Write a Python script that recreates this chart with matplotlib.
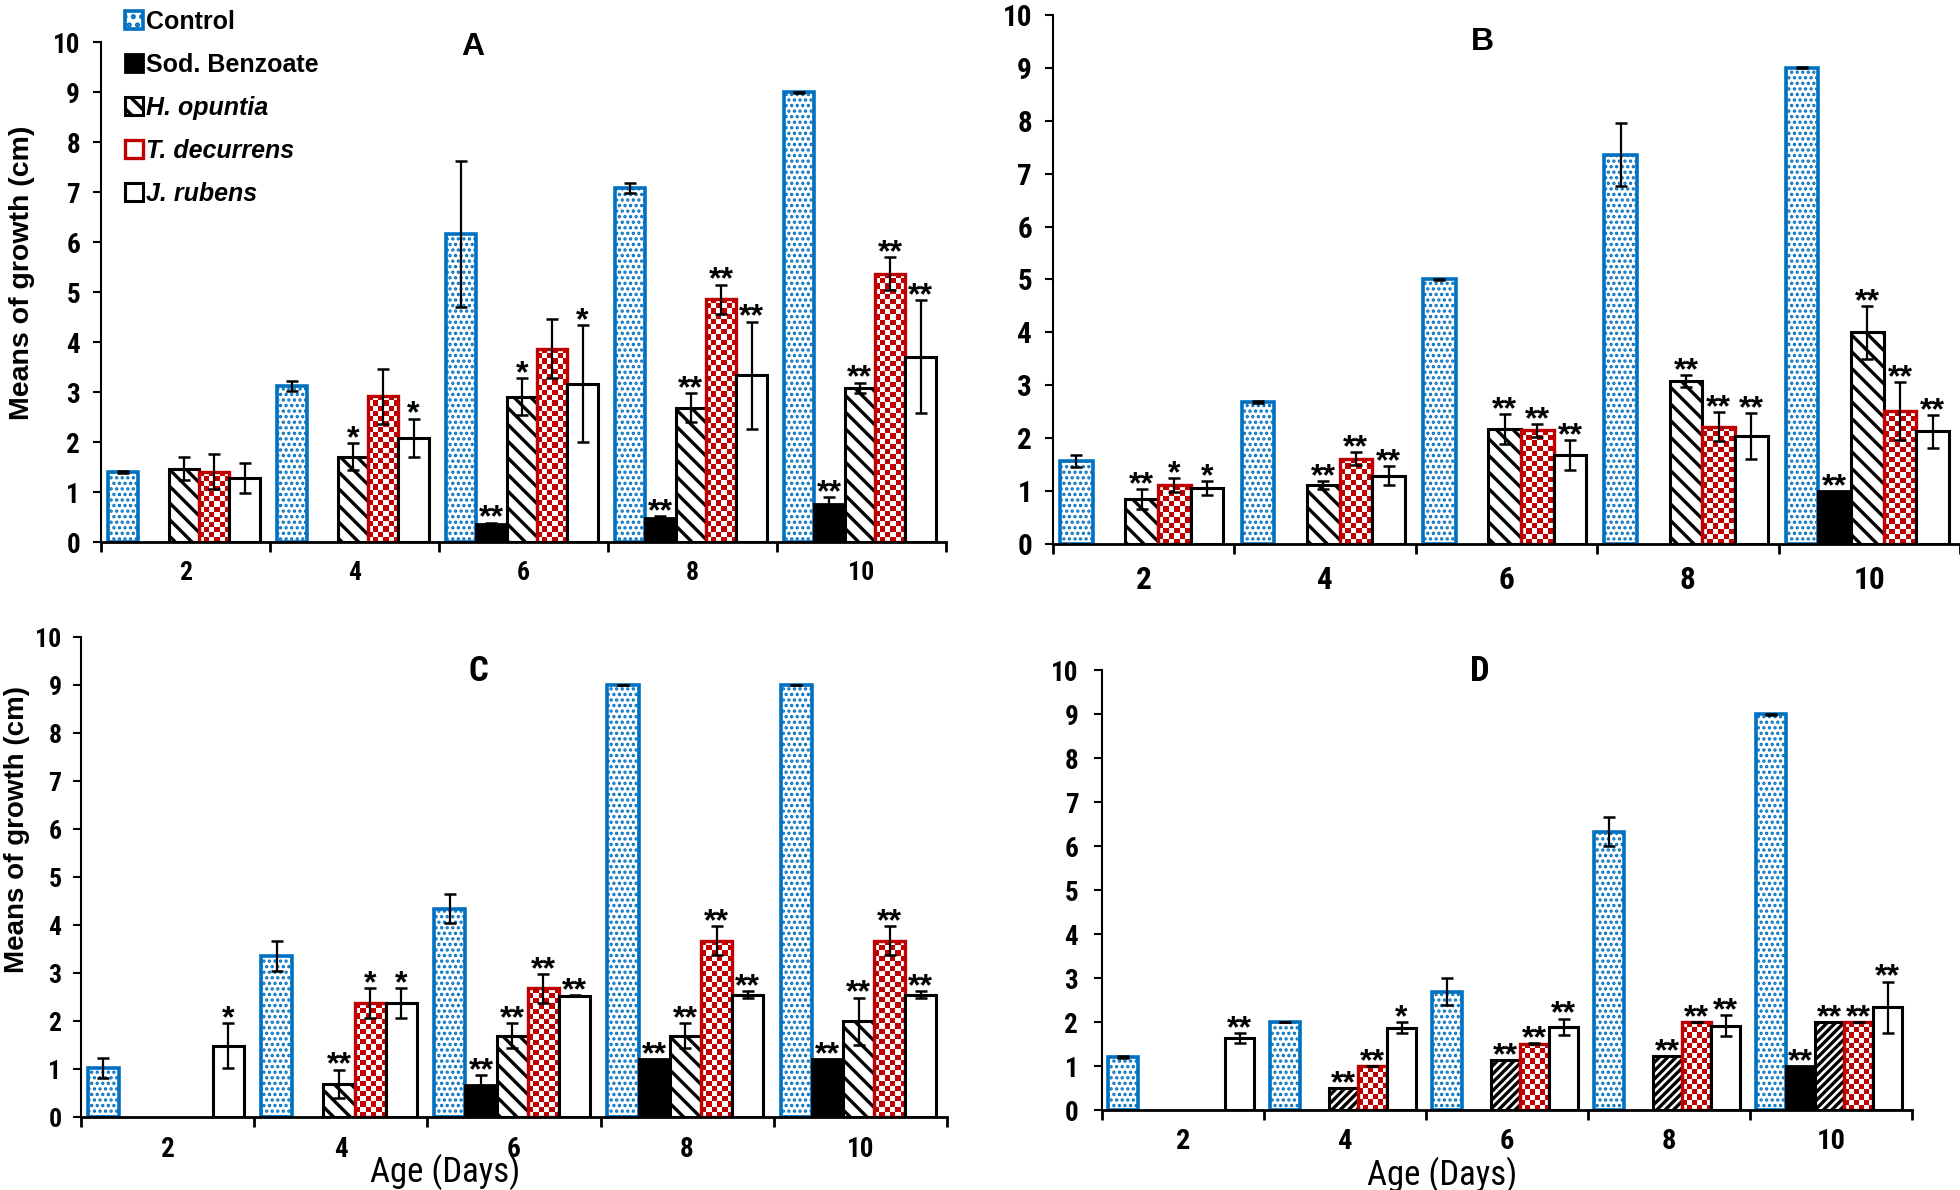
import numpy as np
import matplotlib
matplotlib.use('Agg')
import matplotlib.pyplot as plt
from matplotlib import font_manager
from matplotlib.font_manager import FontProperties
from matplotlib.patches import Patch
from matplotlib.colors import ListedColormap

# ---- data ---------------------------------------------------------------
days = ['2', '4', '6', '8', '10']
series = ['Control', 'Sod. Benzoate', 'H. opuntia', 'T. decurrens', 'J. rubens']

# panel A
a_control = [1.40, 3.12, 6.17, 7.09, 9.00]
a_control_err = [0.02, 0.10, 1.46, 0.10, 0.01]
a_sodben = [0, 0, 0.36, 0.49, 0.77]
a_sodben_err = [0, 0, 0.03, 0.03, 0.13]
a_hop = [1.47, 1.71, 2.91, 2.69, 3.09]
a_hop_err = [0.23, 0.27, 0.37, 0.29, 0.10]
a_tdec = [1.41, 2.92, 3.87, 4.86, 5.37]
a_tdec_err = [0.35, 0.55, 0.59, 0.29, 0.33]
a_jrub = [1.29, 2.09, 3.17, 3.34, 3.71]
a_jrub_err = [0.30, 0.38, 1.17, 1.07, 1.13]
a_stars = [['', '', '', '', ''],
           ['', '', '**', '**', '**'],
           ['', '*', '*', '**', '**'],
           ['', '', '', '**', '**'],
           ['', '*', '*', '**', '**']]

# panel B
b_control = [1.57, 2.68, 5.00, 7.36, 9.00]
b_control_err = [0.12, 0.02, 0.01, 0.59, 0.01]
b_sodben = [0, 0, 0, 0, 1.00]
b_sodben_err = [0, 0, 0, 0, 0]
b_hop = [0.85, 1.11, 2.17, 3.08, 4.00]
b_hop_err = [0.18, 0.08, 0.28, 0.12, 0.50]
b_tdec = [1.11, 1.61, 2.15, 2.22, 2.51]
b_tdec_err = [0.13, 0.12, 0.12, 0.27, 0.55]
b_jrub = [1.06, 1.29, 1.68, 2.04, 2.13]
b_jrub_err = [0.13, 0.18, 0.29, 0.43, 0.31]
b_stars = [['', '', '', '', ''],
           ['', '', '', '', '**'],
           ['**', '**', '**', '**', '**'],
           ['*', '**', '**', '**', '**'],
           ['*', '**', '**', '**', '**']]

# panel C
c_control = [1.02, 3.35, 4.34, 9.00, 9.00]
c_control_err = [0.21, 0.31, 0.30, 0.01, 0.01]
c_sodben = [0, 0, 0.67, 1.20, 1.20]
c_sodben_err = [0, 0, 0.20, 0, 0]
c_hop = [0, 0.69, 1.69, 1.69, 2.00]
c_hop_err = [0, 0.30, 0.26, 0.26, 0.49]
c_tdec = [0, 2.37, 2.68, 3.67, 3.67]
c_tdec_err = [0, 0.31, 0.30, 0.30, 0.30]
c_jrub = [1.49, 2.37, 2.53, 2.55, 2.55]
c_jrub_err = [0.47, 0.31, 0.01, 0.07, 0.07]
c_stars = [['', '', '', '', ''],
           ['', '', '**', '**', '**'],
           ['', '**', '**', '**', '**'],
           ['', '*', '**', '**', '**'],
           ['*', '*', '**', '**', '**']]

# panel D
d_control = [1.21, 2.00, 2.69, 6.33, 9.00]
d_control_err = [0.02, 0.01, 0.30, 0.32, 0.01]
d_sodben = [0, 0, 0, 0, 1.00]
d_sodben_err = [0, 0, 0, 0, 0]
d_hop = [0, 0.50, 1.13, 1.23, 2.00]
d_hop_err = [0, 0, 0, 0, 0]
d_tdec = [0, 1.00, 1.51, 2.00, 2.00]
d_tdec_err = [0, 0.01, 0.01, 0.01, 0.01]
d_jrub = [1.64, 1.87, 1.89, 1.92, 2.34]
d_jrub_err = [0.12, 0.12, 0.19, 0.24, 0.58]
d_stars = [['', '', '', '', ''],
           ['', '', '', '', '**'],
           ['', '**', '**', '**', '**'],
           ['', '**', '**', '**', '**'],
           ['**', '*', '**', '**', '**']]

# ---- style --------------------------------------------------------------
FIG_W, FIG_H = 1960, 1190
BLUE = '#0070C0'
RED = '#C00000'
ARIAL = ['Liberation Sans', 'DejaVu Sans']

plt.rcParams['font.family'] = ARIAL
plt.rcParams['hatch.linewidth'] = 2.4

checker_cmap = ListedColormap(['white', RED])

# look for an Arial-Narrow-like face among what is installed
PREF = ['Liberation Sans', 'Roboto', 'DejaVu Sans', 'Noto Sans', 'Open Sans', 'Lato', 'Inter']


def narrow_font(bold, size):
    cands = []
    for f in font_manager.fontManager.ttflist:
        rank = [i for i, p in enumerate(PREF) if f.name.startswith(p)]
        if not rank or f.style != 'normal' or 'CJK' in f.name:
            continue
        low = f.fname.lower()
        is_narrow = ('narrow' in low or 'condensed' in low or 'Narrow' in f.name
                     or 'Condensed' in f.name or f.stretch == 'condensed')
        if not is_narrow or 'extra' in low or 'ultra' in low:
            continue
        w = f.weight if isinstance(f.weight, (int, float)) else font_manager.weight_dict.get(f.weight, 400)
        cands.append((rank[0], abs(w - (700 if bold else 400)), f.fname))
    if cands:
        cands.sort()
        return FontProperties(fname=cands[0][2], size=size)
    return FontProperties(family='Liberation Sans', weight='bold' if bold else 'normal', size=size)


def bar_style(k, hop_hatch):
    if k == 0:
        return dict(facecolor='white', edgecolor=BLUE, hatch='...', linewidth=2.6)
    if k == 1:
        return dict(facecolor='black', edgecolor='black', linewidth=2.0)
    if k == 2:
        return dict(facecolor='white', edgecolor='black', hatch=hop_hatch, linewidth=2.2)
    if k == 3:
        return dict(facecolor='none', edgecolor=RED, linewidth=2.4)
    return dict(facecolor='white', edgecolor='black', linewidth=2.2)


def draw_panel(ax, vals, errs, stars, hop_hatch, ytick_fs, xtick_fs, xpad, ypad):
    x = np.arange(len(days))
    w = 0.18
    box = ax.get_position()
    px_x = box.width * FIG_W / len(days)
    px_y = box.height * FIG_H / 10

    for k in range(5):
        v = np.array(vals[k], float)
        e = np.array(errs[k], float)
        pos = x + (k - 2) * w - 0.01
        m = v > 0
        bars = ax.bar(pos[m], v[m], w, zorder=2, **bar_style(k, hop_hatch))
        if k == 0:
            for p in bars.patches:
                if hasattr(p, 'set_hatch_linewidth'):
                    p.set_hatch_linewidth(1.6)
        if k == 3:
            # red/white checkerboard fill
            for p in bars.patches:
                x0, ww, hh = p.get_x(), p.get_width(), p.get_height()
                nc = max(2, int(round(ww * px_x / 5.2)))
                nr = max(1, int(round(hh * px_y / 5.2)))
                grid = np.add.outer(np.arange(nr), np.arange(nc)) % 2
                ax.imshow(grid, extent=(x0, x0 + ww, 0, hh), origin='lower',
                          cmap=checker_cmap, vmin=0, vmax=1,
                          interpolation='nearest', aspect='auto', zorder=1.5)
        me = m & (e > 0)
        if me.any():
            ax.errorbar(pos[me], v[me], yerr=e[me], fmt='none', ecolor='black',
                        elinewidth=1.6, capsize=4, capthick=1.8, zorder=3)
        for i in range(len(days)):
            if stars[k][i]:
                ax.annotate(stars[k][i], (pos[i], v[i] + e[i]), xytext=(0, -3),
                            textcoords='offset points', ha='center', va='baseline',
                            fontsize=23, fontweight='bold', zorder=4)

    ax.set_xlim(-0.5, len(days) - 0.5)
    ax.set_ylim(0, 10)
    ax.spines['top'].set_visible(False)
    ax.spines['right'].set_visible(False)
    ax.spines['left'].set_linewidth(1.5)
    ax.spines['bottom'].set_linewidth(2.0)
    ax.set_yticks(range(0, 11))
    ax.set_xticks(x)
    ax.set_xticklabels(days)
    ax.set_xticks(np.arange(-0.5, len(days), 1), minor=True)
    ax.tick_params(axis='y', direction='out', length=6, width=1.5, pad=ypad)
    ax.tick_params(axis='x', which='major', length=0, pad=xpad)
    ax.tick_params(axis='x', which='minor', direction='out', length=7, width=2)
    fy = narrow_font(True, ytick_fs)
    fx = narrow_font(True, xtick_fs)
    for lbl in ax.get_yticklabels():
        lbl.set_fontproperties(fy)
    for lbl in ax.get_xticklabels():
        lbl.set_fontproperties(fx)


fig = plt.figure(figsize=(FIG_W / 100, FIG_H / 100), dpi=100)

ax_a = fig.add_axes([0.0515, 0.5445, 0.4311, 0.4202])
ax_b = fig.add_axes([0.5372, 0.5429, 0.4628, 0.4445])
ax_c = fig.add_axes([0.0413, 0.0613, 0.4418, 0.4034])
ax_d = fig.add_axes([0.5622, 0.0672, 0.4133, 0.3697])

draw_panel(ax_a,
           [a_control, a_sodben, a_hop, a_tdec, a_jrub],
           [a_control_err, a_sodben_err, a_hop_err, a_tdec_err, a_jrub_err],
           a_stars, '\\\\', 19.5, 18.5, 14, 9)
draw_panel(ax_b,
           [b_control, b_sodben, b_hop, b_tdec, b_jrub],
           [b_control_err, b_sodben_err, b_hop_err, b_tdec_err, b_jrub_err],
           b_stars, '\\\\', 21, 22.5, 15, 9)
draw_panel(ax_c,
           [c_control, c_sodben, c_hop, c_tdec, c_jrub],
           [c_control_err, c_sodben_err, c_hop_err, c_tdec_err, c_jrub_err],
           c_stars, '\\\\', 18.5, 19.5, 14, 8)
draw_panel(ax_d,
           [d_control, d_sodben, d_hop, d_tdec, d_jrub],
           [d_control_err, d_sodben_err, d_hop_err, d_tdec_err, d_jrub_err],
           d_stars, '////', 19.5, 20.5, 13, 11)

# panel letters
fig.text(0.2413, 0.9605, 'A', ha='center', va='center', fontsize=23, fontweight='bold')
fig.text(0.7561, 0.9647, 'B', ha='center', va='center', fontsize=23, fontweight='bold')
fig.text(0.2439, 0.4361, 'C', ha='center', va='center', fontproperties=narrow_font(True, 25))
fig.text(0.7551, 0.4361, 'D', ha='center', va='center', fontproperties=narrow_font(True, 25))

# axis titles
fig.text(0.0112, 0.771, 'Means of growth (cm)', rotation=90, ha='center', va='center',
         fontsize=20.5, fontweight='bold')
fig.text(0.0089, 0.303, 'Means of growth (cm)', rotation=90, ha='center', va='center',
         fontsize=20, fontweight='bold')
fig.text(0.227, 0.0151, 'Age (Days)', ha='center', va='center', fontproperties=narrow_font(False, 25))
fig.text(0.7357, 0.0126, 'Age (Days)', ha='center', va='center', fontproperties=narrow_font(False, 25))

# legend (panel A)
handles = []
for k in range(5):
    st = bar_style(k, '\\\\')
    if k == 3:
        st['facecolor'] = 'white'
    if k == 0:
        st['hatch'] = '..'
    handles.append(Patch(**st))
leg = fig.legend(handles, series, loc='upper left', bbox_to_anchor=(0.0638, 0.9916),
                 frameon=False, borderpad=0, borderaxespad=0,
                 handlelength=0.72, handleheight=0.72, handletextpad=0.1,
                 labelspacing=0.76, prop=dict(family=ARIAL, weight='bold', size=18))
for t in leg.get_texts()[2:]:
    t.set_style('italic')

fig.savefig('out.png', dpi=100)
